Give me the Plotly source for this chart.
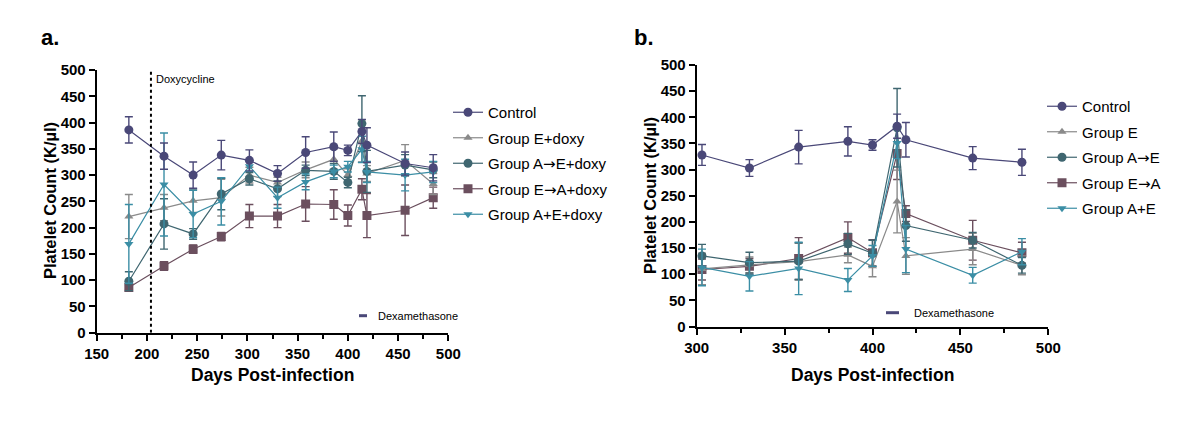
import plotly.graph_objects as go

# ---------------- data ----------------
days_a = [182, 217, 246, 274, 302, 330, 358, 386, 400, 414, 419, 457, 485]
control_a = [386, 336, 300, 338, 328, 303, 343, 354, 347, 383, 357, 322, 314]
control_a_err = [25, 25, 25, 28, 20, 15, 30, 28, 10, 23, 33, 22, 25]
e_doxy = [221, 238, 251, 257, 300, 286, 310, 330, 300, 365, 303, 328, 283]
e_doxy_err = [42, 25, 22, 35, 15, 10, 15, 20, 12, 40, 15, 30, 20]
ae_doxy = [98, 207, 188, 264, 293, 274, 309, 307, 286, 398, 307, 319, 310]
ae_doxy_err = [18, 48, 10, 30, 12, 15, 10, 15, 10, 53, 40, 20, 15]
ea_doxy = [86, 127, 159, 183, 222, 222, 245, 244, 223, 273, 223, 233, 257]
ea_doxy_err = [5, 8, 8, 8, 22, 22, 33, 28, 20, 20, 42, 48, 20]
apluse_doxy = [169, 282, 226, 250, 317, 257, 287, 307, 316, 349, 306, 300, 306]
apluse_doxy_err = [75, 98, 45, 45, 10, 20, 15, 12, 10, 25, 20, 30, 20]

days_b = [303, 330, 358, 386, 400, 414, 419, 457, 485]
control_b = [328, 303, 343, 354, 347, 383, 357, 322, 314]
control_b_err = [20, 16, 32, 28, 10, 23, 33, 22, 25]
e_b = [110, 118, 124, 137, 115, 239, 135, 148, 117]
e_b_err = [30, 15, 35, 15, 20, 60, 35, 30, 18]
ae_b = [135, 122, 125, 158, 140, 380, 193, 165, 117]
ae_b_err = [22, 20, 35, 20, 25, 75, 30, 15, 15]
ea_b = [109, 115, 130, 170, 141, 331, 216, 165, 141]
ea_b_err = [20, 15, 40, 30, 25, 50, 15, 38, 20]
apluse_b = [113, 96, 111, 89, 135, 351, 148, 98, 143]
apluse_b_err = [35, 28, 50, 22, 20, 30, 45, 15, 25]

doxy_day = 204

ARROW = '<span style="font-family:DejaVu Sans">\u2192</span>'
names_a = ["Control", "Group E+doxy", "Group A" + ARROW + "E+doxy",
           "Group E" + ARROW + "A+doxy", "Group A+E+doxy"]
names_b = ["Control", "Group E", "Group A" + ARROW + "E", "Group E" + ARROW + "A", "Group A+E"]

colors = ["#4a4878", "#8a8a8a", "#3f6670", "#6b4f5e", "#3b8ea5"]
symbols = ["circle", "triangle-up", "circle", "square", "triangle-down"]
sizes = [9, 8, 9, 9, 8]

FONT = "Liberation Sans, Arial, Helvetica, sans-serif"

fig = go.Figure()

series_a = [(control_a, control_a_err), (e_doxy, e_doxy_err), (ae_doxy, ae_doxy_err),
            (ea_doxy, ea_doxy_err), (apluse_doxy, apluse_doxy_err)]
series_b = [(control_b, control_b_err), (e_b, e_b_err), (ae_b, ae_b_err),
            (ea_b, ea_b_err), (apluse_b, apluse_b_err)]

order = [3, 1, 2, 4, 0]
for i in order:
    vals, err = series_a[i]
    fig.add_trace(go.Scatter(
        x=days_a, y=vals, name=names_a[i], mode="lines+markers",
        line=dict(color=colors[i], width=1.2),
        marker=dict(symbol=symbols[i], size=sizes[i], color=colors[i]),
        error_y=dict(type="data", array=err, color=colors[i], thickness=1.4, width=4),
        xaxis="x", yaxis="y", legend="legend", legendrank=i + 1, legendgroup="a%d" % i,
    ))
for i in order:
    vals, err = series_b[i]
    fig.add_trace(go.Scatter(
        x=days_b, y=vals, name=names_b[i], mode="lines+markers",
        line=dict(color=colors[i], width=1.2),
        marker=dict(symbol=symbols[i], size=sizes[i], color=colors[i]),
        error_y=dict(type="data", array=err, color=colors[i], thickness=1.4, width=4),
        xaxis="x2", yaxis="y2", legend="legend2", legendrank=i + 1, legendgroup="b%d" % i,
    ))

axis_common = dict(
    showgrid=False, zeroline=False, showline=True, linecolor="black", linewidth=2,
    ticks="outside", ticklen=6, tickwidth=2, tickcolor="black", automargin=False,
    tickfont=dict(family=FONT, size=15, color="black", weight="bold"),
)

W, H = 1200, 423
OFF = 8  # page body margin offset
def px_x(p):
    return (p - OFF) / W
def px_y(p):
    return 1 - (p - OFF) / H

fig.update_layout(
    template="none",
    width=W, height=H, margin=dict(l=0, r=0, t=0, b=0, autoexpand=False),
    paper_bgcolor="white", plot_bgcolor="white",
    showlegend=True,
    xaxis=dict(domain=[px_x(96.7), px_x(448.3)], range=[150, 500], dtick=50,
               minor=dict(dtick=25, ticks="outside", ticklen=4, tickwidth=2, tickcolor="black"),
               anchor="y", **axis_common),
    yaxis=dict(domain=[px_y(332.7), px_y(70)], range=[0, 500], dtick=50,
               anchor="x", **axis_common),
    xaxis2=dict(domain=[px_x(696.7), px_x(1048.3)], range=[300, 500], dtick=50,
                minor=dict(dtick=25, ticks="outside", ticklen=4, tickwidth=2, tickcolor="black"),
                anchor="y2", **axis_common),
    yaxis2=dict(domain=[px_y(326.5), px_y(65)], range=[0, 500], dtick=50,
                anchor="x2", **axis_common),
    legend=dict(x=px_x(448), y=px_y(96), xanchor="left", yanchor="top",
                font=dict(family=FONT, size=15, color="black"),
                tracegroupgap=3, itemwidth=30, bgcolor="rgba(0,0,0,0)", traceorder="grouped"),
    legend2=dict(x=px_x(1042), y=px_y(90), xanchor="left", yanchor="top",
                 font=dict(family=FONT, size=15, color="black"),
                 tracegroupgap=3, itemwidth=30, bgcolor="rgba(0,0,0,0)", traceorder="grouped"),
)

fig.add_shape(type="line", xref="x", yref="y", x0=doxy_day, x1=doxy_day, y0=0, y1=500,
              line=dict(color="black", width=2, dash="dot"))
fig.add_annotation(xref="x", yref="paper", x=doxy_day, y=px_y(79), text="Doxycycline",
                   showarrow=False, xanchor="left", yanchor="middle", xshift=3,
                   font=dict(family=FONT, size=11, color="black"))

for xa, xb, xt, yy in [(px_x(359), px_x(367), px_x(376), px_y(315.7)),
                       (px_x(886), px_x(899), px_x(912), px_y(312.7))]:
    fig.add_shape(type="line", xref="paper", yref="paper", x0=xa, x1=xb, y0=yy, y1=yy,
                  line=dict(color="#4a4878", width=3))
    fig.add_annotation(xref="paper", yref="paper", x=xt, y=yy, text="Dexamethasone",
                       showarrow=False, xanchor="left", yanchor="middle",
                       font=dict(family=FONT, size=11, color="black"))

ytitle_font = dict(family=FONT, size=16.5, color="black", weight="bold")
xtitle_font = dict(family=FONT, size=17.5, color="black", weight="bold")
for cx, cy in [(px_x(50), px_y(201)), (px_x(650), px_y(196))]:
    fig.add_annotation(xref="paper", yref="paper", x=cx, y=cy,
                       text="Platelet Count (K/\u00b5l)", textangle=-90, showarrow=False,
                       xanchor="center", yanchor="middle", font=ytitle_font)
for cx in [px_x(272.5), px_x(872.5)]:
    fig.add_annotation(xref="paper", yref="paper", x=cx, y=px_y(375),
                       text="Days Post-infection", showarrow=False,
                       xanchor="center", yanchor="middle", font=xtitle_font)

panel_font = dict(family=FONT, size=22, color="black", weight="bold")
fig.add_annotation(xref="paper", yref="paper", x=px_x(39), y=px_y(38), text="a.",
                   showarrow=False, xanchor="left", yanchor="middle", font=panel_font)
fig.add_annotation(xref="paper", yref="paper", x=px_x(632), y=px_y(38), text="b.",
                   showarrow=False, xanchor="left", yanchor="middle", font=panel_font)

fig.write_html("out.html")
